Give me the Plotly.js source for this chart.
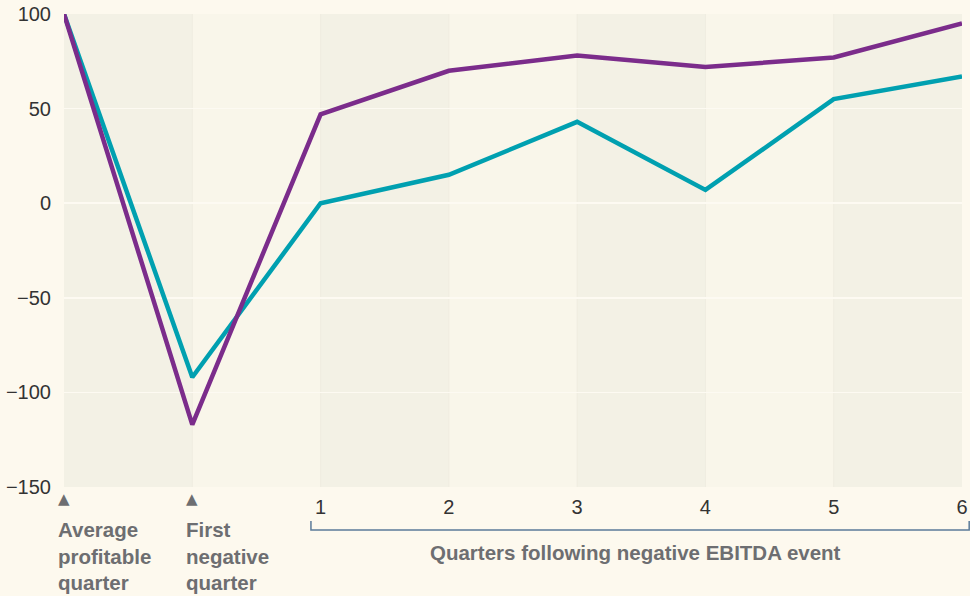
<!DOCTYPE html>
<html>
<head>
<meta charset="utf-8">
<script src="https://cdn.plot.ly/plotly-3.0.1.min.js"></script>
<style>html,body{margin:0;padding:0;background:#fdf9ee;}#chart{width:970px;height:596px;}</style>
</head>
<body>
<div id="chart"></div>
<script>
const xIndex = [0, 1, 2, 3, 4, 5, 6, 7];
const tickLabels = ["1", "2", "3", "4", "5", "6"];
const tealValues = [100, -92, 0, 15, 43, 7, 55, 67];
const purpleValues = [100, -117, 47, 70, 78, 72, 77, 95];
const leftLabels = ["Average<br>profitable<br>quarter", "First<br>negative<br>quarter"];
const bracketLabel = "Quarters following negative EBITDA event";

const font = "Liberation Sans, Arial, Helvetica, sans-serif";
const gray = "#6d6e71";
const xMax = 7.0;

const shapes = [];
for (let i = 0; i < 7; i++) {
  shapes.push({
    type: "rect", xref: "x", yref: "paper", layer: "below",
    x0: i, x1: i + 1, y0: 0, y1: 1,
    fillcolor: i % 2 === 0 ? "#f3f1e5" : "#f9f6ea", line: {width: 0}
  });
  if (i > 0) shapes.push({
    type: "line", xref: "x", yref: "paper", layer: "below",
    x0: i, x1: i, y0: 0, y1: 1, line: {color: "#efece0", width: 1}
  });
}
// bracket
shapes.push({type: "path", xref: "paper", yref: "paper",
  path: "M 0.275 -0.072 L 0.275 -0.091 L 1.008 -0.091 L 1.008 -0.072",
  line: {color: "#5b7b99", width: 1.5}});

const annotations = [];
[0, 1].forEach(i => {
  annotations.push({x: xIndex[i], y: -0.003, xref: "x", yref: "paper", text: "▲",
    showarrow: false, yanchor: "top", font: {family: "DejaVu Sans", size: 15, color: gray}});
  annotations.push({x: xIndex[i], y: -0.062, xref: "x", yref: "paper", text: "<b>" + leftLabels[i] + "</b>",
    showarrow: false, xanchor: "left", xshift: -8, yanchor: "top", align: "left",
    font: {family: font, size: 20.5, color: gray}});
});
annotations.push({x: 0.636, y: -0.11, xref: "paper", yref: "paper", text: "<b>" + bracketLabel + "</b>",
  showarrow: false, yanchor: "top", xanchor: "center", font: {family: font, size: 20.5, color: gray}});

const traces = [
  {x: xIndex, y: tealValues, type: "scatter", mode: "lines", line: {color: "#00a0b0", width: 4.5}},
  {x: xIndex, y: purpleValues, type: "scatter", mode: "lines", line: {color: "#7b2c8b", width: 4.5}}
];

const layout = {
  width: 970, height: 596,
  margin: {l: 64, r: 8, t: 14, b: 109},
  paper_bgcolor: "#fdf9ee", plot_bgcolor: "#f9f6ea",
  showlegend: false,
  font: {family: font, size: 18, color: "#333"},
  xaxis: {range: [0, xMax], tickvals: xIndex.slice(2), ticktext: tickLabels, showgrid: false,
    zeroline: false, showline: false, ticks: "", ticklabelstandoff: 6,
    tickfont: {family: font, size: 20, color: "#333"}, fixedrange: true},
  yaxis: {range: [-150, 100], tickvals: [-150, -100, -50, 0, 50, 100], showgrid: true,
    gridcolor: "#fdfaf2", gridwidth: 1.5, zeroline: false, showline: false, ticks: "",
    ticklabelstandoff: 12, tickfont: {family: font, size: 20, color: "#333"}, fixedrange: true},
  shapes: shapes, annotations: annotations
};

Plotly.newPlot("chart", traces, layout, {displayModeBar: false, staticPlot: true});
</script>
</body>
</html>
